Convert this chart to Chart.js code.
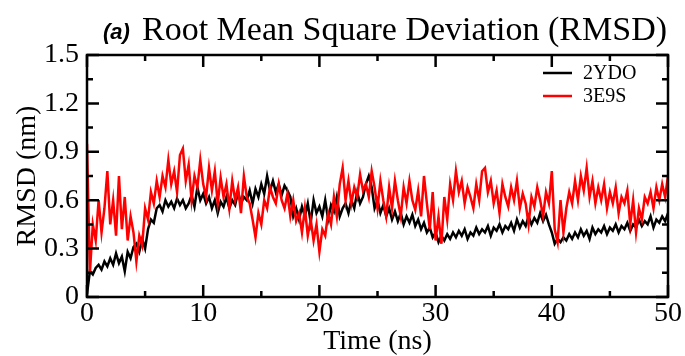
<!DOCTYPE html>
<html>
<head>
<meta charset="utf-8">
<script src="https://cdn.jsdelivr.net/npm/chart.js@4.4.1/dist/chart.umd.min.js"></script>
<style>
  body { margin: 0; background: #fff; }
  canvas { display: block; }
</style>
</head>
<body>
<canvas id="rmsd" width="685" height="356"></canvas>
<script>
// time axis: 0..50 ns every 0.25 ns
const timeStep = 0.25;

const rmsd2YDO = [
  0.02, 0.16, 0.14, 0.18, 0.2, 0.17, 0.22, 0.19, 0.24,
  0.2, 0.27, 0.21, 0.25, 0.16, 0.28, 0.24, 0.31,
  0.33, 0.28, 0.36, 0.3, 0.42, 0.48, 0.46, 0.55,
  0.57, 0.53, 0.6, 0.56, 0.59, 0.55, 0.61, 0.57,
  0.6, 0.55, 0.58, 0.63, 0.56, 0.68, 0.6, 0.64,
  0.58, 0.62, 0.55, 0.6, 0.52, 0.59, 0.56, 0.62,
  0.55, 0.6, 0.57, 0.65, 0.58, 0.62, 0.6, 0.66,
  0.58, 0.67, 0.62, 0.7, 0.64, 0.75, 0.66, 0.72,
  0.65, 0.7, 0.63, 0.69, 0.66, 0.62, 0.5, 0.55,
  0.48, 0.56, 0.5, 0.58, 0.46, 0.6, 0.52, 0.56,
  0.5, 0.6, 0.48, 0.57, 0.53, 0.62, 0.5, 0.55,
  0.58, 0.52, 0.6, 0.55, 0.65, 0.58, 0.62, 0.7,
  0.75, 0.68, 0.55, 0.6, 0.52, 0.57, 0.5, 0.55,
  0.48, 0.53, 0.47, 0.52, 0.45, 0.5, 0.46, 0.51,
  0.44, 0.48, 0.42, 0.46, 0.4, 0.43, 0.37, 0.4,
  0.34, 0.38, 0.35, 0.39, 0.36, 0.4, 0.37, 0.41,
  0.38, 0.42, 0.36, 0.4, 0.38, 0.43, 0.39, 0.42,
  0.4, 0.44, 0.38, 0.43, 0.41, 0.45, 0.4, 0.44,
  0.42, 0.46, 0.41, 0.48, 0.43, 0.47, 0.44, 0.5,
  0.45, 0.49, 0.46, 0.52, 0.47, 0.51, 0.45, 0.4,
  0.33, 0.36, 0.34, 0.37, 0.35, 0.39, 0.36, 0.4,
  0.37, 0.42, 0.38, 0.41, 0.36, 0.43, 0.39, 0.42,
  0.4, 0.44, 0.39, 0.43, 0.41, 0.45, 0.4, 0.44,
  0.42, 0.46, 0.41, 0.45, 0.43, 0.48, 0.44, 0.47,
  0.45, 0.5, 0.43, 0.48, 0.46, 0.5, 0.47, 0.52
];

const rmsd3E9S = [
  0.95, 0.15, 0.45, 0.35, 0.6, 0.4, 0.55, 0.78, 0.45,
  0.6, 0.38, 0.75, 0.42, 0.62, 0.35, 0.5, 0.4,
  0.22, 0.38, 0.32, 0.55, 0.48, 0.65, 0.58, 0.72,
  0.62, 0.75, 0.68, 0.85, 0.7, 0.78, 0.65, 0.88,
  0.92, 0.72, 0.82, 0.6, 0.75, 0.68, 0.85, 0.7,
  0.62, 0.8, 0.66, 0.78, 0.58, 0.74, 0.62, 0.7,
  0.55, 0.72, 0.6, 0.68, 0.52, 0.75, 0.62, 0.58,
  0.48, 0.37, 0.52, 0.45, 0.6, 0.55, 0.68, 0.62,
  0.58, 0.7, 0.6, 0.55, 0.64, 0.5, 0.6, 0.47,
  0.52, 0.4, 0.55, 0.38, 0.48, 0.35, 0.45, 0.28,
  0.42, 0.38, 0.52, 0.45, 0.62, 0.5, 0.7, 0.8,
  0.6, 0.72, 0.58, 0.68, 0.62, 0.76, 0.66, 0.7,
  0.62, 0.78, 0.68, 0.55, 0.72, 0.6, 0.5, 0.68,
  0.55, 0.72, 0.6, 0.5, 0.68, 0.58, 0.72, 0.6,
  0.54, 0.66, 0.5, 0.75, 0.58, 0.42, 0.65, 0.35,
  0.5, 0.33, 0.62, 0.48, 0.7, 0.6, 0.78, 0.65,
  0.72, 0.58, 0.68, 0.62, 0.55, 0.7, 0.6, 0.78,
  0.8, 0.65, 0.72, 0.58, 0.66, 0.52, 0.7, 0.62,
  0.56, 0.68, 0.6, 0.72, 0.55, 0.64, 0.58, 0.45,
  0.62, 0.56, 0.68, 0.6, 0.5, 0.65, 0.58, 0.78,
  0.42, 0.34, 0.6, 0.4, 0.55, 0.65, 0.58, 0.72,
  0.6, 0.75, 0.66, 0.8, 0.62, 0.72, 0.58, 0.68,
  0.6, 0.7, 0.55, 0.65, 0.58, 0.68, 0.52, 0.62,
  0.58, 0.66, 0.45, 0.6, 0.4, 0.55, 0.48, 0.62,
  0.58, 0.65, 0.55, 0.68, 0.6, 0.7, 0.62, 0.75
];

const xTicks = [0, 10, 20, 30, 40, 50];
const xMinorTicks = [5, 15, 25, 35, 45];
const yTicks = [0, 0.3, 0.6, 0.9, 1.2, 1.5];
const yMinorTicks = [0.15, 0.45, 0.75, 1.05, 1.35];

const seriesNames = ["2YDO", "3E9S"];
const seriesColors = ["#000000", "#ff0000"];

const SERIF = "'Liberation Serif', 'Times New Roman', serif";

function toPoints(arr) {
  return arr.map((v, i) => ({ x: i * timeStep, y: v }));
}

// frame, inward ticks on all four sides, title and legend (xmgrace look)
const decorPlugin = {
  id: "decor",
  afterDatasetsDraw(chart) {
    const ctx = chart.ctx;
    const a = chart.chartArea;
    const xs = chart.scales.x, ys = chart.scales.y;
    ctx.save();
    ctx.strokeStyle = "#000";
    ctx.lineWidth = 2.5;
    ctx.lineCap = "butt";

    const major = 12, minor = 6;
    ctx.beginPath();
    xTicks.concat(xMinorTicks).forEach(v => {
      const len = xTicks.includes(v) ? major : minor;
      const px = xs.getPixelForValue(v);
      ctx.moveTo(px, a.bottom); ctx.lineTo(px, a.bottom - len);
      ctx.moveTo(px, a.top); ctx.lineTo(px, a.top + len);
    });
    yTicks.concat(yMinorTicks).forEach(v => {
      const len = yTicks.includes(v) ? major : minor;
      const py = ys.getPixelForValue(v);
      ctx.moveTo(a.left, py); ctx.lineTo(a.left + len, py);
      ctx.moveTo(a.right, py); ctx.lineTo(a.right - len, py);
    });
    ctx.stroke();
    ctx.strokeRect(a.left, a.top, a.right - a.left, a.bottom - a.top);

    // title
    ctx.fillStyle = "#000";
    ctx.textBaseline = "alphabetic";
    ctx.textAlign = "left";
    ctx.font = "italic bold 22px 'Liberation Sans', Arial, sans-serif";
    ctx.fillText("(a)", 103, 39);
    ctx.font = "34px " + SERIF;
    ctx.fillText("Root Mean Square Deviation (RMSD)", 142, 40);

    // legend
    ctx.font = "20px " + SERIF;
    ctx.textBaseline = "middle";
    const ly = [73, 96];
    seriesNames.forEach((name, i) => {
      ctx.strokeStyle = seriesColors[i];
      ctx.beginPath();
      ctx.moveTo(543, ly[i]); ctx.lineTo(572, ly[i]);
      ctx.stroke();
      ctx.fillText(name, 583, ly[i] + 1);
    });
    ctx.restore();
  }
};

new Chart(document.getElementById("rmsd"), {
  type: "line",
  data: {
    datasets: [
      {
        label: seriesNames[0],
        data: toPoints(rmsd2YDO),
        borderColor: seriesColors[0],
        borderWidth: 2.5,
        pointRadius: 0,
        tension: 0,
        order: 1
      },
      {
        label: seriesNames[1],
        data: toPoints(rmsd3E9S),
        borderColor: seriesColors[1],
        borderWidth: 2.5,
        pointRadius: 0,
        tension: 0,
        order: 0
      }
    ]
  },
  options: {
    responsive: false,
    animation: false,
    layout: { padding: { top: 55, right: 12, left: 0, bottom: 0 } },
    plugins: {
      legend: { display: false },
      tooltip: { enabled: false }
    },
    scales: {
      x: {
        type: "linear",
        min: 0, max: 50,
        grid: { display: false, drawTicks: false },
        border: { display: false },
        afterBuildTicks: s => { s.ticks = xTicks.map(v => ({ value: v })); },
        afterFit: s => { s.height = 59; },
        ticks: {
          color: "#000",
          padding: 3,
          maxRotation: 0,
          font: { family: SERIF, size: 28, lineHeight: 1 }
        },
        title: {
          display: true,
          text: "Time (ns)",
          color: "#000",
          padding: { top: 0, bottom: -2 },
          font: { family: SERIF, size: 28, lineHeight: 1.2 }
        }
      },
      y: {
        min: 0, max: 1.5,
        grid: { display: false, drawTicks: false },
        border: { display: false },
        afterBuildTicks: s => { s.ticks = yTicks.map(v => ({ value: v })); },
        afterFit: s => { s.width = 87; },
        ticks: {
          color: "#000",
          padding: 8,
          font: { family: SERIF, size: 28 },
          callback: v => String(Number(v.toFixed(1)))
        },
        title: {
          display: true,
          text: "RMSD (nm)",
          color: "#000",
          padding: { top: 11, bottom: 0 },
          font: { family: SERIF, size: 28 }
        }
      }
    }
  },
  plugins: [decorPlugin]
});
</script>
</body>
</html>
